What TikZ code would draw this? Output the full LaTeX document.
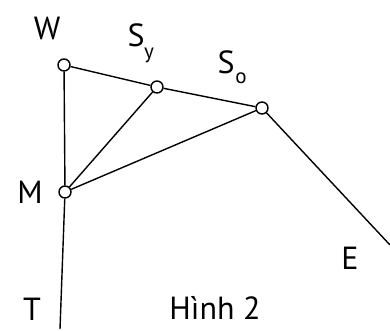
\documentclass[tikz,border=0pt]{standalone}
\usepackage{fontspec}
\setmainfont{PT Sans}
\begin{document}
\begin{tikzpicture}[x=1pt,y=-1pt,
  dot/.style={circle,draw,line width=1.4pt,fill=white,minimum size=12pt,inner sep=0pt},
  edge/.style={line width=1.4pt},
  lab/.style={inner sep=0pt,font=\fontsize{32}{32}\selectfont},
  sublab/.style={inner sep=0pt,font=\fontsize{21}{21}\selectfont}]
\useasboundingbox (0,0) rectangle (390,331);
\node[dot] (W) at (64,65) {};
\node[dot] (Sy) at (157,87) {};
\node[dot] (So) at (262,108) {};
\node[dot] (M) at (65,192) {};
\coordinate (T) at (60,329);
\coordinate (E) at (390,245);
\draw[edge] (W) -- (Sy);
\draw[edge] (Sy) -- (So);
\draw[edge] (W) -- (M);
\draw[edge] (M) -- (T);
\draw[edge] (M) -- (Sy);
\draw[edge] (M) -- (So);
\draw[edge] (So) -- (E);
\node[lab] (lW) at (47,28) {W};
\node[lab] (lSy) at (136,35) {S};
\node[sublab] (lSyy) at (149,55) {y};
\node[lab] (lSo) at (226,62) {S};
\node[sublab] (lSoo) at (241,78) {o};
\node[lab] (lM) at (30,192) {M};
\node[lab] (lE) at (350,258) {E};
\node[lab] (lT) at (32,309) {T};
\node[lab] (lH) at (215,308) {Hình 2};
\end{tikzpicture}
\end{document}
